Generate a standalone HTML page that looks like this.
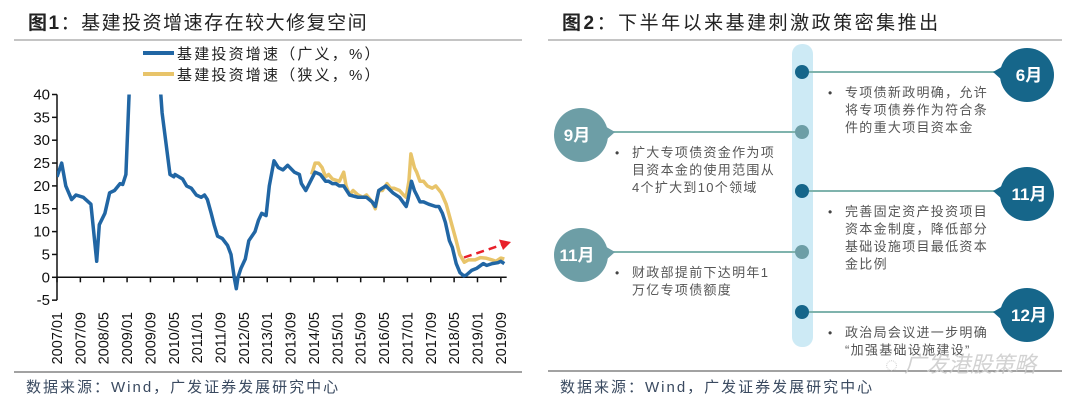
<!DOCTYPE html>
<html><head><meta charset="utf-8"><style>
body{margin:0;background:#fff;width:1080px;height:411px;overflow:hidden;font-family:"Liberation Sans","Noto Sans CJK SC",sans-serif}
svg text{font-family:"Liberation Sans","Noto Sans CJK SC",sans-serif}
</style></head><body>
<svg width="1080" height="411" viewBox="0 0 1080 411">
<defs><clipPath id="plotclip"><rect x="57" y="94.5" width="460" height="220"/></clipPath></defs>
<g>
<text x="28" y="29" font-size="19" letter-spacing="1.5" fill="#222"><tspan font-weight="bold">图1</tspan>：基建投资增速存在较大修复空间</text>
<line x1="14" y1="40" x2="522" y2="40" stroke="#888" stroke-width="1"/>
<g>
<line x1="143" y1="53" x2="174" y2="53" stroke="#2166a4" stroke-width="4"/>
<text x="177" y="59" font-size="15" letter-spacing="2.2" fill="#222">基建投资增速（广义，%）</text>
<line x1="143" y1="74" x2="174" y2="74" stroke="#e8c46a" stroke-width="4"/>
<text x="177" y="80" font-size="15" letter-spacing="2.2" fill="#222">基建投资增速（狭义，%）</text>
</g>
<g id="axes"></g>
<g id="series" clip-path="url(#plotclip)"></g>
<line x1="464" y1="257.5" x2="503" y2="244.5" stroke="#e8202a" stroke-width="2.5" stroke-dasharray="8,5"/>
<polygon points="511,242 499,239.5 503,250" fill="#e8202a"/>
<line x1="14" y1="372" x2="522" y2="372" stroke="#444" stroke-width="1"/>
<text x="26" y="392" font-size="15" letter-spacing="2" fill="#3a4a60">数据来源：Wind，广发证券发展研究中心</text>
</g>

<g>
<text x="562" y="29" font-size="19" letter-spacing="2.5" fill="#222"><tspan font-weight="bold">图2</tspan>：下半年以来基建刺激政策密集推出</text>
<line x1="548" y1="40" x2="1062" y2="40" stroke="#888" stroke-width="1"/>
<rect x="792" y="44" width="21" height="303" rx="10" fill="#cdeaf5"/>
<g id="timeline"></g>
<line x1="548" y1="371" x2="1062" y2="371" stroke="#444" stroke-width="1"/>
<text x="560" y="392" font-size="15" letter-spacing="2" fill="#3a4a60">数据来源：Wind，广发证券发展研究中心</text>
<text x="885" y="372" font-size="22" fill="#c8c8c8" font-style="italic" opacity="0.8">◌ 广发港股策略</text>
</g>
</svg>
<script>
// ---- chart data (month index from 2007/01, value %) ----
const blueMonths=[0,1.6,3,5,6.5,9,11.6,13.6,14.5,16.4,18,19.7,21.6,22.5,23.6,25,30,35,36,38.7,40,40.4,43,44.4,46,47.7,49.4,50.5,51.5,52.8,53.8,55,56.6,58.4,59.6,60.7,61.4,62,63,64.5,65.7,67.8,69,70.1,71.6,72.7,74.3,75.8,77.4,79,81.3,83,83.7,85.2,86.4,88.4,90.2,92,93,94.3,95.5,96.7,98.2,100.2,103.1,106,107.9,109,110.2,112.6,115,117.3,119,119.6,120.2,121.4,122.4,123.2,124.3,125.5,127.3,129.7,130.8,132,133,134.4,135.4,136.7,138,139.3,140.2,142,143.8,146,147.2,149,151,152,153.2];
const blueValues=[22,25,20,17,18,17.5,16,3.5,11.5,14,18.5,19,20.5,20.3,22.5,45,60,45,36,22.5,22,22.5,21.5,20,19.5,18,17.5,18,17,14,11.5,9,8.5,7,5,0,-2.5,0,2,4,8,10,12.5,14,13.5,20,25.5,24,23.5,24.5,23,22.5,20.5,19,20.5,23,22.5,21,21,20.5,20.5,20,20,18,17.5,17.5,16.5,15.5,19,20,18.5,17.5,16,15.5,17,21,19,18,16.5,16.5,16,15.5,15.5,14,12,8,6.5,3,1,0.3,0.5,1.5,2,3,2.6,3,3.2,3.5,3];
const yellowMonths=[87.2,88.4,89.6,90.8,92,93,94.3,96.7,98.2,99,100.2,101.4,103.1,104.8,106,107.9,109,110.2,111.4,113,114.2,115.4,117.3,118.7,119.6,120.5,121.2,122.4,123.2,124.3,125.5,126.8,128.5,129.7,131.6,133.3,135,136.7,137.9,139.5,140.9,143.2,145,146.8,149,150.3,152,153.2];
const yellowValues=[22.5,25,25,24,22,22.5,21.5,21,23,20,18,19,18,17.5,18,16.5,15,19,19,20.5,19.5,19.5,19,18,17.5,21,27,24,23,21,21,20,19.5,20,18.5,16,12,8,5,3.3,3.8,3.8,4.3,4.2,3.8,3.5,4.2,4];
const yTicks=[40,35,30,25,20,15,10,5,0,-5];
const xTickLabels=["2007/01","2007/09","2008/05","2009/01","2009/09","2010/05","2011/01","2011/09","2012/05","2013/01","2013/09","2014/05","2015/01","2015/09","2016/05","2017/01","2017/09","2018/05","2019/01","2019/09"];

const NS="http://www.w3.org/2000/svg";
const X0=57, PXM=2.92, Y0=277.3, PXU=4.57;
const xs=m=>X0+m*PXM;
const ys=v=>Y0-v*PXU;
function mk(tag,attrs,parent){const e=document.createElementNS(NS,tag);for(const k in attrs)e.setAttribute(k,attrs[k]);parent.appendChild(e);return e;}
const axes=document.getElementById('axes');
const yaxis=mk('line',{x1:X0,y1:ys(40),x2:X0,y2:ys(-5),stroke:'#111','stroke-width':1.5},axes);


yTicks.forEach(v=>{
  const t=mk('line',{x1:X0-5,y1:ys(v),x2:X0,y2:ys(v),stroke:'#111','stroke-width':1.5},axes);
  
  
  const l=mk('text',{x:X0-7,y:ys(v)+5,'font-size':15,'text-anchor':'end',fill:'#111'},axes);
  l.textContent=v;
  
  
});
const zero=mk('line',{x1:X0,y1:ys(0),x2:xs(154),y2:ys(0),stroke:'#111','stroke-width':1.5},axes);


xTickLabels.forEach((lab,i)=>{
  const m=i*8, x=xs(m);
  const t=mk('line',{x1:x,y1:ys(0),x2:x,y2:ys(0)+5,stroke:'#111','stroke-width':1.5},axes);
  
  
  const l=mk('text',{x:0,y:0,'font-size':14.5,'text-anchor':'end',fill:'#111',transform:`translate(${x+5},312) rotate(-90)`},axes);
  l.textContent=lab;
  
  
});
const ser=document.getElementById('series');
function line(ms,vs,color,name){
  const d=ms.map((m,i)=>(i?'L':'M')+xs(m).toFixed(1)+','+ys(vs[i]).toFixed(1)).join('');
  const p=mk('path',{d:d,fill:'none',stroke:color,'stroke-width':3.5,'stroke-linejoin':'round'},ser);
  
  
}
line(yellowMonths,yellowValues,'#e8c46a','series-narrow');
line(blueMonths,blueValues,'#2166a4','series-broad');

// ---- timeline ----
const events=[
 {side:'R',y:72,label:'6月',dark:true,lines:['专项债新政明确，允许','将专项债券作为符合条','件的重大项目资本金']},
 {side:'L',y:132,label:'9月',dark:false,lines:['扩大专项债资金作为项','目资本金的使用范围从','4个扩大到10个领域']},
 {side:'R',y:191,label:'11月',dark:true,lines:['完善固定资产投资项目','资本金制度，降低部分','基础设施项目最低资本','金比例']},
 {side:'L',y:252,label:'11月',dark:false,lines:['财政部提前下达明年1','万亿专项债额度']},
 {side:'R',y:312,label:'12月',dark:true,lines:['政治局会议进一步明确','“加强基础设施建设”']}
];
const tl=document.getElementById('timeline');
events.forEach(ev=>{
  const col=ev.dark?'#16668a':'#6d9ea6';
  const cx=ev.side==='R'?1027:581, cy=ev.y+3;
  const ln=mk('line',{x1:802,y1:ev.y,x2:ev.side==='R'?995:613,y2:ev.y,stroke:'#7fb3ad','stroke-width':2},tl);
  
  
  const dot=mk('circle',{cx:802,cy:ev.y,r:7,fill:col},tl);
  
  
  const px=ev.side==='R'?cx-34:cx+34;
  const tip=mk('polygon',{points:`${px},${ev.y} ${cx+(ev.side==='R'?-15:15)},${cy-14} ${cx+(ev.side==='R'?-15:15)},${cy+14}`,fill:col},tl);
  
  
  const c=mk('circle',{cx:cx,cy:cy,r:27,fill:col},tl);
  
  
  const t=mk('text',{x:cx+(ev.side==='R'?2:-4),y:cy+6,'font-size':17,'font-weight':'bold','text-anchor':'middle',fill:'#fff'},tl);
  t.textContent=ev.label;
  
  
  const bx=ev.side==='R'?828:615, tx=ev.side==='R'?845:632;
  const b=mk('text',{x:bx,y:ev.y+25,'font-size':12,fill:'#444'},tl);
  b.textContent='•';
  
  
  ev.lines.forEach((s,i)=>{
    const e=mk('text',{x:tx,y:ev.y+25+i*17.5,'font-size':13,'letter-spacing':'1.3',fill:'#555'},tl);
    e.textContent=s;
    
    
  });
});
</script>
</body></html>
